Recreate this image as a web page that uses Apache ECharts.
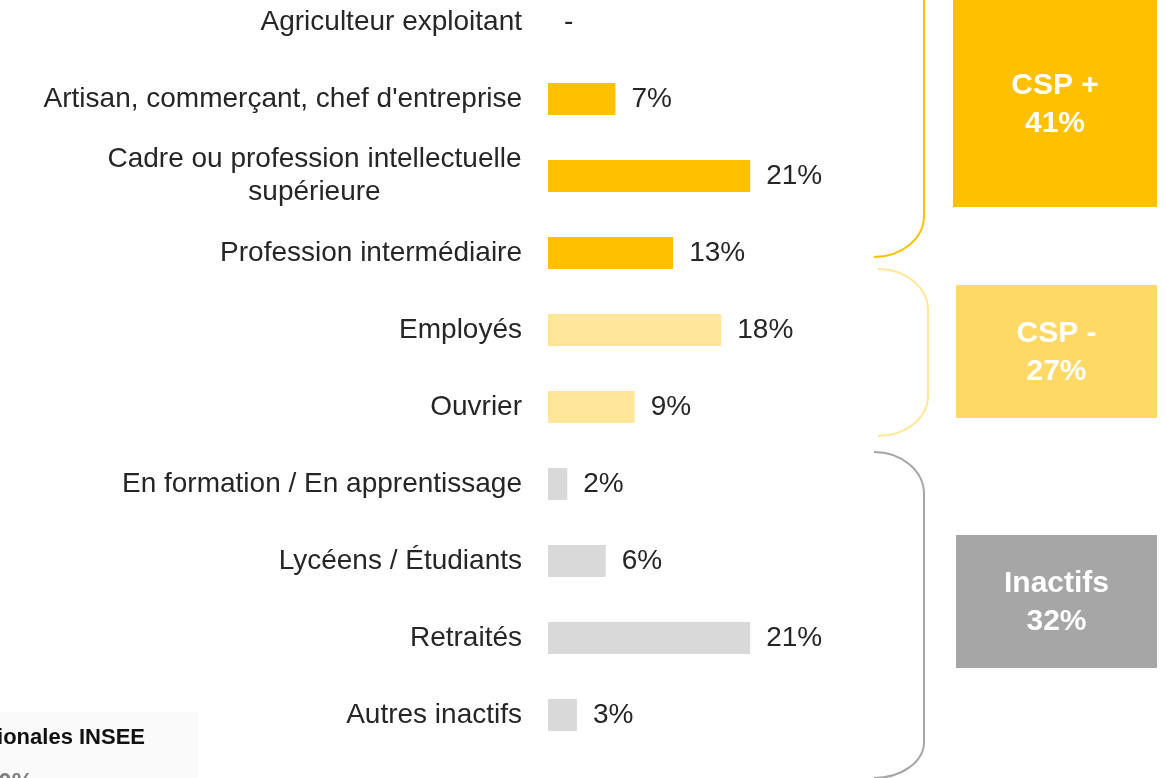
<!DOCTYPE html>
<html>
<head>
<meta charset="utf-8">
<script src="https://cdn.jsdelivr.net/npm/echarts@6/dist/echarts.min.js"></script>
<style>
  html, body { margin: 0; padding: 0; background: #fff; }
  #chart { width: 1165px; height: 778px; }
</style>
</head>
<body>
<div id="chart"></div>
<script>
// categories, top to bottom
const categories = [
  'Agriculteur exploitant',
  'Artisan, commerçant, chef d\'entreprise',
  'Cadre ou profession intellectuelle\nsupérieure',
  'Profession intermédiaire',
  'Employés',
  'Ouvrier',
  'En formation / En apprentissage',
  'Lycéens / Étudiants',
  'Retraités',
  'Autres inactifs'
];
const values = [0, 7, 21, 13, 18, 9, 2, 6, 21, 3];
const groups = ['plus', 'plus', 'plus', 'plus', 'moins', 'moins', 'inactif', 'inactif', 'inactif', 'inactif'];

const groupNames = ['CSP +', 'CSP -', 'Inactifs'];
const groupTotals = [41, 27, 32];

const barColors = { plus: '#FFC000', moins: '#FFE699', inactif: '#D9D9D9' };
const font = 'Liberation Sans, Arial, sans-serif';
const labelSize = 28;

// width of the widest line of a label, so multi-line labels can be centred
function textWidth(str) {
  const ctx = document.createElement('canvas').getContext('2d');
  ctx.font = labelSize + 'px ' + font;
  return Math.max.apply(null, str.split('\n').map(function (s) { return ctx.measureText(s).width; }));
}

// a curly bracket: top curve, straight part, bottom curve
function bracket(xo, xi, y0, y1, y2, y3, color) {
  const st = { fill: 'none', stroke: color, lineWidth: 2 };
  const k = 0.55;
  return [
    { type: 'bezierCurve', silent: true, style: st,
      shape: { x1: xo, y1: y0, x2: xi, y2: y1,
               cpx1: xo + (xi - xo) * k, cpy1: y0, cpx2: xi, cpy2: y1 - (y1 - y0) * k } },
    { type: 'line', silent: true, style: st,
      shape: { x1: xi, y1: y1, x2: xi, y2: y2 } },
    { type: 'bezierCurve', silent: true, style: st,
      shape: { x1: xi, y1: y2, x2: xo, y2: y3,
               cpx1: xi, cpy1: y2 + (y3 - y2) * k, cpx2: xo + (xi - xo) * k, cpy2: y3 } }
  ];
}

function box(x, y, w, h, color, label) {
  return [
    { type: 'rect', silent: true, shape: { x: x, y: y, width: w, height: h }, style: { fill: color } },
    { type: 'text', silent: true, x: x + w / 2, y: y + h / 2 + 1,
      style: { text: label, align: 'center', verticalAlign: 'middle',
               fontFamily: font, fontSize: 30, fontWeight: 'bold', lineHeight: 38, fill: '#fff' } }
  ];
}

const chart = echarts.init(document.getElementById('chart'));

const option = {
  animation: false,
  grid: {
    left: 548,
    right: 232,
    top: -16.5,
    height: 770,
    outerBoundsMode: 'none',
    containLabel: false
  },
  xAxis: {
    type: 'value',
    min: 0,
    max: 40,
    show: false
  },
  yAxis: {
    type: 'category',
    inverse: true,
    data: categories,
    axisLine: { show: false },
    axisTick: { show: false },
    axisLabel: {
      margin: 26,
      fontFamily: font,
      fontSize: labelSize,
      color: '#262626',
      lineHeight: 33,
      formatter: function (value) {
        if (value.indexOf('\n') < 0) return value;
        const w = Math.ceil(textWidth(value));
        return value.split('\n').map(function (s) { return '{c' + w + '|' + s + '}'; }).join('\n');
      },
      rich: (function () {
        const r = {};
        categories.forEach(function (c) {
          if (c.indexOf('\n') < 0) return;
          const w = Math.ceil(textWidth(c));
          r['c' + w] = { width: w, align: 'center', fontFamily: font, fontSize: labelSize, color: '#262626', lineHeight: 33 };
        });
        return r;
      })()
    }
  },
  series: [
    {
      type: 'bar',
      barWidth: 32,
      data: values.map(function (v, i) {
        return { value: v, itemStyle: { color: barColors[groups[i]] } };
      }),
      label: {
        show: true,
        position: 'right',
        distance: 16,
        fontFamily: font,
        fontSize: labelSize,
        color: '#262626',
        formatter: function (p) {
          return p.value === 0 ? '-' : p.value + '%';
        }
      }
    }
  ],
  graphic: [].concat(
    bracket(874, 924, -42, -4, 216, 257, '#FFC000'),
    bracket(878, 928, 269, 310, 396, 436, '#FFE699'),
    bracket(874, 924, 452, 494, 742, 778, '#A6A6A6'),
    box(953, 0, 204, 207, '#FFC000', groupNames[0] + '\n' + groupTotals[0] + '%'),
    box(956, 285, 201, 133, '#FFD966', groupNames[1] + '\n' + groupTotals[1] + '%'),
    box(956, 535, 201, 133, '#A6A6A6', groupNames[2] + '\n' + groupTotals[2] + '%'),
    [
      // clipped legend box, bottom left
      { type: 'rect', silent: true, shape: { x: 0, y: 712, width: 198, height: 66 }, style: { fill: '#FAFAFA' } },
      { type: 'text', silent: true, x: 145, y: 738,
        style: { text: 'Répartitions nationales INSEE', align: 'right', verticalAlign: 'middle',
                 fontFamily: font, fontSize: 22, fontWeight: 'bold', fill: '#111' } },
      { type: 'text', silent: true, x: 33, y: 771,
        style: { text: '30%', align: 'right', verticalAlign: 'top',
                 fontFamily: font, fontSize: 24, fontWeight: 'bold', fill: '#7F7F7F' } }
    ]
  )
};

chart.setOption(option);
</script>
</body>
</html>
